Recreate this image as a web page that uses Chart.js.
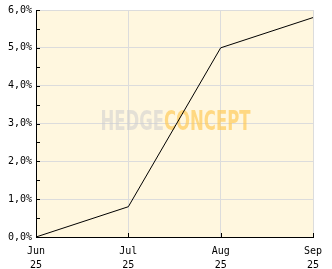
<!DOCTYPE html>
<html>
<head>
<meta charset="utf-8">
<script src="https://cdn.jsdelivr.net/npm/chart.js@4"></script>
<style>
  html, body { margin: 0; padding: 0; background: #fff; }
  #wrap { width: 332px; height: 269px; }
</style>
</head>
<body>
<div id="wrap"><canvas id="perfChart"></canvas></div>
<script>
// data
const months = [["Jun", "25"], ["Jul", "25"], ["Aug", "25"], ["Sep", "25"]];
const perf = [0.0, 0.8, 5.0, 5.8];
const yMin = 0;
const yMax = 6;

const plotBg = "#fff7df";
const gridCol = "#dcdcdc";

/* background, watermark and inward tick marks */
const decor = {
    id: "decor",
    beforeDraw(chart) {
        const { ctx, chartArea: a } = chart;
        ctx.save();
        ctx.fillStyle = plotBg;
        ctx.fillRect(a.left, a.top, a.right - a.left, a.bottom - a.top);
        ctx.restore();
    },
    beforeDatasetsDraw(chart) {
        const { ctx, chartArea: a } = chart;
        const cx = (a.left + a.right) / 2 + 1;
        const cy = (a.top + a.bottom) / 2;
        ctx.save();
        ctx.font = "bold 26px 'DejaVu Sans Condensed', 'DejaVu Sans'";
        ctx.textBaseline = "middle";
        const w1 = ctx.measureText("HEDGE").width;
        const w2 = ctx.measureText("CONCEPT").width;
        const target = 150;
        const sx = target / (w1 + w2);
        ctx.translate(cx - target / 2, cy);
        ctx.scale(sx, 1);
        ctx.fillStyle = "rgba(205,205,205,0.55)";
        ctx.fillText("HEDGE", 0, 0);
        ctx.fillStyle = "rgba(255,200,80,0.65)";
        ctx.fillText("CONCEPT", w1, 0);
        ctx.restore();
    },
    afterDraw(chart) {
        const { ctx, chartArea: a, scales } = chart;
        ctx.save();
        ctx.strokeStyle = "#000";
        ctx.lineWidth = 1;
        ctx.beginPath();
        for (let v = yMin; v <= yMax; v += 0.5) {
            const y = Math.round(scales.y.getPixelForValue(v)) + 0.5;
            ctx.moveTo(a.left, y);
            ctx.lineTo(a.left + 4, y);
        }
        months.forEach((m, i) => {
            const x = Math.round(scales.x.getPixelForValue(i)) + 0.5;
            ctx.moveTo(x, a.bottom);
            ctx.lineTo(x, a.bottom - 4);
        });
        ctx.stroke();
        ctx.restore();
    }
};

const ctx = document.getElementById("perfChart").getContext("2d");

new Chart(ctx, {
    type: "line",
    data: {
        labels: months,
        datasets: [{
            data: perf,
            borderColor: "#000",
            borderWidth: 1,
            pointRadius: 0,
            tension: 0,
            fill: false
        }]
    },
    options: {
        responsive: true,
        maintainAspectRatio: false,
        animation: false,
        events: [],
        layout: { padding: { top: 10, right: 19, left: 0, bottom: 0 } },
        plugins: {
            legend: { display: false },
            tooltip: { enabled: false }
        },
        scales: {
            x: {
                offset: false,
                afterFit(s) { s.height = 32; },
                grid: {
                    color: c => c.index === 0 ? "rgba(0,0,0,0)" : gridCol,
                    drawTicks: false
                },
                border: { color: "#000", width: 1 },
                ticks: {
                    color: "#000",
                    padding: 7,
                    maxRotation: 0,
                    autoSkip: false,
                    font: { family: "'DejaVu Sans Mono'", size: 10, lineHeight: 1.4 }
                }
            },
            y: {
                min: yMin,
                max: yMax,
                afterFit(s) { s.width = 36; },
                grid: {
                    color: c => (c.tick && Number.isInteger(c.tick.value) && c.tick.value > 0) ? gridCol : "rgba(0,0,0,0)",
                    drawTicks: false
                },
                border: { color: "#000", width: 1 },
                ticks: {
                    stepSize: 0.5,
                    color: "#000",
                    padding: 4,
                    font: { family: "'DejaVu Sans Mono'", size: 10 },
                    callback: v => Number.isInteger(v) ? v.toFixed(1).replace(".", ",") + "%" : ""
                }
            }
        }
    },
    plugins: [decor]
});
</script>
</body>
</html>
